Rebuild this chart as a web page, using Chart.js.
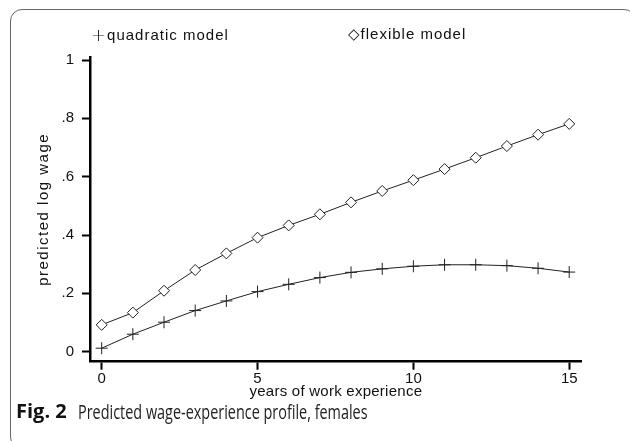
<!DOCTYPE html>
<html>
<head>
<meta charset="utf-8">
<script src="https://cdn.jsdelivr.net/npm/chart.js@4/dist/chart.umd.min.js"></script>
<style>
  html, body { margin: 0; padding: 0; background: #fff; width: 630px; height: 441px; overflow: hidden; }
  #wrap { position: relative; width: 630px; height: 441px; }
  #frame { position: absolute; left: 10px; top: 9px; width: 626px; height: 440px; border: 1.5px solid #666; border-radius: 12px; box-sizing: border-box; }
  canvas { position: absolute; left: 0; top: 0; }
  .leg { position: absolute; font-family: "Liberation Sans", Arial, sans-serif; font-size: 15px; letter-spacing: 1px; color: #111; white-space: nowrap; line-height: 18px; }
  .cap { position: absolute; font-family: "Open Sans", sans-serif; color: #222; white-space: nowrap; transform-origin: 0 0; }
  #capB { left: 16px; top: 397px; font-size: 20px; font-weight: 700; color: #111; }
  #capR { left: 78px; top: 397.5px; font-size: 19.5px; transform: scaleX(0.74); }
</style>
</head>
<body>
<div id="wrap">
  <div id="frame"></div>
  <canvas id="c" width="630" height="441"></canvas>
  <div class="leg" style="left:91px; top:25px;"><span style="font-family:'DejaVu Sans'; font-size:18px; font-weight:200; letter-spacing:0; position:relative; top:1px;">+</span><span style="margin-left:1px;">quadratic model</span></div>
  <div class="leg" style="left:348px; top:25px;"><span style="font-family:'DejaVu Sans'; font-size:15px; letter-spacing:1px;">◇</span><span>flexible model</span></div>
  <div class="cap" id="capB">Fig. 2</div>
  <div class="cap" id="capR">Predicted wage-experience profile, females</div>
</div>
<script>
const years = [0,1,2,3,4,5,6,7,8,9,10,11,12,13,14,15];
const quadratic = [0.012,0.060,0.101,0.141,0.174,0.206,0.231,0.254,0.272,0.284,0.293,0.298,0.298,0.295,0.286,0.273];
const flexible  = [0.092,0.134,0.209,0.280,0.337,0.391,0.433,0.471,0.512,0.551,0.588,0.626,0.665,0.705,0.744,0.781];
const yTicks = [0, 0.2, 0.4, 0.6, 0.8, 1];
const yTickLabels = ['0', '.2', '.4', '.6', '.8', '1'];
const xTicks = [0, 5, 10, 15];

const axisFont = { family: "'Liberation Sans', Arial, sans-serif", size: 15 };

const spacingPlugin = {
  id: 'titleSpacing',
  beforeDraw(chart) {
    const setSpacing = (scale, sp) => {
      if (!scale || scale._spWrapped) return;
      const orig = scale.drawTitle.bind(scale);
      scale.drawTitle = function () {
        const ctx = this.ctx;
        const prev = ctx.letterSpacing;
        ctx.letterSpacing = sp;
        orig();
        ctx.letterSpacing = prev || '0px';
      };
      scale._spWrapped = true;
    };
    setSpacing(chart.scales.y, '1.5px');
    setSpacing(chart.scales.x, '0.25px');
  }
};

new Chart(document.getElementById('c'), {
  type: 'line',
  plugins: [spacingPlugin],
  data: {
    datasets: [
      {
        label: 'quadratic model',
        data: years.map((x, i) => ({ x: x, y: quadratic[i] })),
        borderColor: '#222', borderWidth: 1,
        pointStyle: 'cross', pointRadius: 6, pointBorderWidth: 1,
        pointBorderColor: '#222', pointBackgroundColor: '#222',
        tension: 0, fill: false
      },
      {
        label: 'flexible model',
        data: years.map((x, i) => ({ x: x, y: flexible[i] })),
        borderColor: '#222', borderWidth: 1,
        pointStyle: 'rectRot', pointRadius: 5.5, pointBorderWidth: 1,
        pointBorderColor: '#222', pointBackgroundColor: '#fff',
        tension: 0, fill: false
      }
    ]
  },
  options: {
    responsive: false,
    animation: false,
    devicePixelRatio: 1,
    layout: { padding: { left: 34.6, top: 57, right: 48.3, bottom: 40.6 } },
    plugins: { legend: { display: false }, tooltip: { enabled: false } },
    scales: {
      x: {
        type: 'linear',
        min: -0.375, max: 15.4,
        afterFit: s => { s.height = 38.7; },
        afterBuildTicks: s => { s.ticks = xTicks.map(v => ({ value: v })); },
        grid: { drawOnChartArea: false, drawTicks: true, tickLength: 8, tickWidth: 2, tickColor: '#000' },
        border: { display: true, color: '#000', width: 2.5 },
        ticks: { color: '#111', font: axisFont, padding: 0, maxRotation: 0, callback: v => String(v) },
        title: { display: true, text: 'years of work experience', color: '#111', font: axisFont, padding: 0 }
      },
      y: {
        type: 'linear',
        min: -0.0343, max: 1.0103,
        afterFit: s => { s.width = 55.4; },
        afterBuildTicks: s => { s.ticks = yTicks.map(v => ({ value: v })); },
        grid: { drawOnChartArea: false, drawTicks: true, tickLength: 8, tickWidth: 2, tickColor: '#000' },
        border: { display: true, color: '#000', width: 2.5 },
        ticks: { color: '#111', font: axisFont, padding: 8, callback: (v) => { const i = yTicks.findIndex(t => Math.abs(t - v) < 1e-9); return i >= 0 ? yTickLabels[i] : ''; } },
        title: { display: true, text: 'predicted log wage', color: '#111', font: axisFont, padding: 0 }
      }
    }
  }
});
</script>
</body>
</html>
